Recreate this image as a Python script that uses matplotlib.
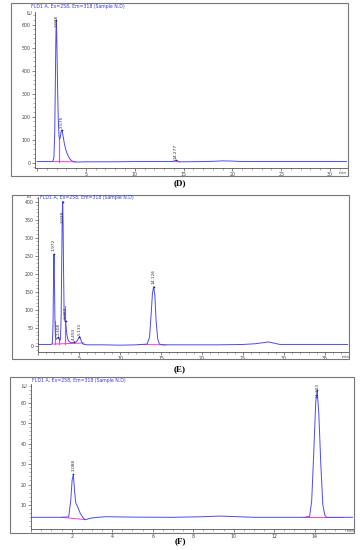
import matplotlib
matplotlib.use("Agg")
import matplotlib.pyplot as plt
from matplotlib.patches import Rectangle
from matplotlib.ticker import MultipleLocator

W, H = 360, 550
BLUE = "#4b4bf0"
MAG = "#ff3fc8"
TXT = "#333333"
TITLE = "FLD1 A, Ex=258, Em=318 (Sample N.D)"

# ---------------- Panel D data (traced) ----------------
d_time = [0, 1.5, 1.62, 1.72, 1.8, 1.86, 1.91, 1.95, 1.99, 2.04, 2.1, 2.17, 2.24, 2.3, 2.37,
          2.44, 2.5, 2.57, 2.66, 2.78, 2.92, 3.05, 3.2, 3.35, 3.55, 3.8, 4.1, 5, 8, 10, 13.8,
          14.0, 14.2, 14.4, 14.6, 15, 17, 18, 19, 20, 21, 25, 31.7]
d_lu = [5, 5, 6, 25, 130, 330, 520, 620, 590, 470, 310, 180, 115, 102, 110,
        132, 142, 136, 115, 85, 58, 42, 28, 16, 8, 4, 3, 4, 4, 5, 5,
        7, 11, 7, 4, 4, 5, 6, 8, 7, 5, 5, 5]
d_peak_labels = ["2.028", "2.575", "14.277"]
d_peak_time = [1.95, 2.5, 14.2]
d_peak_lu = [620, 142, 11]
d_label_lu = [590, 150, 18]

# ---------------- Panel E data (traced) ----------------
e_time = [0, 1.6, 1.75, 1.83, 1.9, 1.95, 2.0, 2.06, 2.12, 2.2, 2.3, 2.4, 2.48, 2.56, 2.65,
          2.74, 2.82, 2.9, 2.96, 3.01, 3.06, 3.12, 3.18, 3.24, 3.3, 3.36, 3.42, 3.5, 3.62,
          3.8, 4.0, 4.2, 4.39, 4.55, 4.7, 4.85, 5.0, 5.06, 5.15, 5.3, 5.5, 5.7, 6, 8, 10, 12,
          13.3, 13.6, 13.8, 13.95, 14.1, 14.25, 14.4, 14.6, 14.8, 15.2, 18, 22, 25, 26.5,
          27.5, 28.1, 28.7, 29.5, 31, 37.8]
e_lu = [5, 5, 8, 60, 200, 255, 190, 80, 30, 20, 20, 24, 25, 20, 15,
        20, 80, 250, 370, 400, 340, 200, 100, 75, 68, 70, 55, 35, 20,
        13, 10, 10, 12, 11, 13, 18, 25, 27, 24, 12, 6, 5, 4, 4, 3, 4,
        6, 25, 90, 145, 165, 140, 70, 20, 6, 4, 4, 4, 5, 7,
        10, 12, 9, 5, 5, 5]
e_peak_labels = ["1.972", "2.408", "3.028", "3.363", "4.493", "5.131", "14.126"]
e_peak_time = [1.95, 2.48, 3.01, 3.38, 4.39, 5.06, 14.1]
e_peak_lu = [255, 25, 400, 70, 12, 27, 165]
e_label_lu = [262, 30, 340, 76, 16, 32, 172]

# ---------------- Panel F data (traced) ----------------
f_time = [0, 1.5, 1.85, 1.95, 2.02, 2.08, 2.14, 2.2, 2.3, 2.42, 2.55, 2.66, 2.8, 3.0, 3.3,
          3.7, 5, 7, 8.5, 9.3, 10.2, 11, 13.5, 13.75, 13.85, 13.95, 14.05, 14.12, 14.2,
          14.3, 14.4, 14.5, 14.6, 15, 15.9]
f_lu = [4, 4, 4.2, 12, 22, 25, 17, 11, 9, 6, 4, 2.8, 3.2, 3.7, 4,
        4.3, 4.1, 4, 4.3, 4.6, 4.3, 4, 4, 4.5, 12, 35, 60, 66, 55,
        30, 10, 5, 4, 4, 4]
f_peak_labels = ["2.088", "14.103"]
f_peak_time = [2.08, 14.12]
f_peak_lu = [25, 66]
f_label_lu = [26.5, 62]

fig = plt.figure(figsize=(W / 100, H / 100), dpi=100)
plt.rcParams["font.family"] = ["DejaVu Sans"]


def px_axes(x0, y0, x1, y1):
    return fig.add_axes([x0 / W, 1 - y1 / H, (x1 - x0) / W, (y1 - y0) / H])


def box(x0, y0, x1, y1):
    fig.patches.append(Rectangle((x0 / W, 1 - y1 / H), (x1 - x0) / W, (y1 - y0) / H,
                                 transform=fig.transFigure, fill=False,
                                 edgecolor="#777777", lw=0.8))


def ftext(x, y, s, **kw):
    fig.text(x / W, 1 - y / H, s, **kw)


def style(ax, xlim, ylim, xmaj, xmin, yticks, ymin):
    ax.set_xlim(*xlim)
    ax.set_ylim(*ylim)
    ax.patch.set_alpha(0)
    for s in ("top", "right"):
        ax.spines[s].set_visible(False)
    for s in ("left", "bottom"):
        ax.spines[s].set_color("#555555")
        ax.spines[s].set_linewidth(0.6)
    ax.xaxis.set_major_locator(MultipleLocator(xmaj))
    ax.xaxis.set_minor_locator(MultipleLocator(xmin))
    ax.set_yticks(yticks)
    ax.yaxis.set_minor_locator(MultipleLocator(ymin))
    ax.tick_params(which="major", length=2, width=0.5, labelsize=3.4, pad=1.2,
                   colors="#555555", labelcolor="#444444")
    ax.tick_params(which="minor", length=1.2, width=0.4, colors="#777777")
    labs = []
    for t in ax.get_xticks():
        labs.append("" if abs(t) < 1e-9 else f"{t:g}")
    ax.set_xticks(ax.get_xticks())
    ax.set_xticklabels(labs)
    ax.set_xlim(*xlim)


def peaks(ax, labels, times, lus, label_lus):
    for lab, t, v, lv in zip(labels, times, lus, label_lus):
        ax.text(t, lv, lab, rotation=90, fontsize=3.1, color=TXT,
                ha="center", va="bottom")
        ax.plot([t], [v], marker="+", ms=2, mew=0.4, color="#222266")


# ================= Panel D =================
box(11, 3, 348, 175.5)
axD = px_axes(35.2, 12, 346.6, 168)
axD.plot([1.6, 3.9], [5, 4], color=MAG, lw=0.7)
axD.plot([2.27, 2.27], [5, 102], color=MAG, lw=0.8)
axD.plot([13.8, 14.6], [5, 4], color=MAG, lw=0.7)
axD.plot(d_time, d_lu, color=BLUE, lw=0.7)
style(axD, (-0.2, 31.7), (-23, 655), 5, 1, list(range(0, 700, 100)), 20)
peaks(axD, d_peak_labels, d_peak_time, d_peak_lu, d_label_lu)
ftext(31.5, 6.5, TITLE, fontsize=3.3, color="#3a3ae0", va="center")
ftext(29, 13.5, "LU", fontsize=3.4, color="#444444", ha="center", va="center")
ftext(343, 173.5, "min", fontsize=3.2, color="#444444", ha="center", va="center")
ftext(180, 183, "(D)", fontsize=6.5, family="Liberation Serif", weight="bold",
      ha="center", va="center")

# ================= Panel E =================
box(12, 195, 349, 358.5)
axE = px_axes(38, 197.2, 348, 351.7)
axE.plot([1.8, 5.6], [6, 9], color=MAG, lw=0.7)
axE.plot([2.07, 2.07], [6, 70], color=MAG, lw=0.8)
axE.plot([2.62, 2.62], [6, 22], color=MAG, lw=0.8)
axE.plot([3.3, 3.3], [7, 110], color=MAG, lw=0.8)
axE.plot([12.2, 15.6], [5, 4], color=MAG, lw=0.7)
axE.plot(e_time, e_lu, color=BLUE, lw=0.7)
style(axE, (0, 37.8), (-15, 412), 5, 1, list(range(0, 450, 50)), 10)
peaks(axE, e_peak_labels, e_peak_time, e_peak_lu, e_label_lu)
ftext(40, 198, TITLE, fontsize=3.3, color="#3a3ae0", va="center")
ftext(29, 196.5, "LU", fontsize=3.2, color="#444444", ha="center", va="center")
ftext(346, 357, "min", fontsize=3.2, color="#444444", ha="center", va="center")
ftext(180, 369, "(E)", fontsize=6.5, family="Liberation Serif", weight="bold",
      ha="center", va="center")

# ================= Panel F =================
box(10, 377, 354, 532.5)
axF = px_axes(31.2, 384.1, 353.2, 529.2)
axF.plot([1.5, 2.65], [4, 2.9], color=MAG, lw=0.7)
axF.plot([13.4, 15.4], [4, 4], color=MAG, lw=0.7)
axF.plot(f_time, f_lu, color=BLUE, lw=0.7)
style(axF, (0, 15.9), (-1.8, 69), 2, 0.5, list(range(10, 70, 10)), 2)
peaks(axF, f_peak_labels, f_peak_time, f_peak_lu, f_label_lu)
ftext(32, 380.5, TITLE, fontsize=3.3, color="#3a3ae0", va="center")
ftext(24, 386.5, "LU", fontsize=3.4, color="#444444", ha="center", va="center")
ftext(351, 530.5, "min", fontsize=3.2, color="#444444", ha="center", va="center")
ftext(180, 541, "(F)", fontsize=6.5, family="Liberation Serif", weight="bold",
      ha="center", va="center")

fig.savefig("out.png", dpi=100, facecolor="white")
